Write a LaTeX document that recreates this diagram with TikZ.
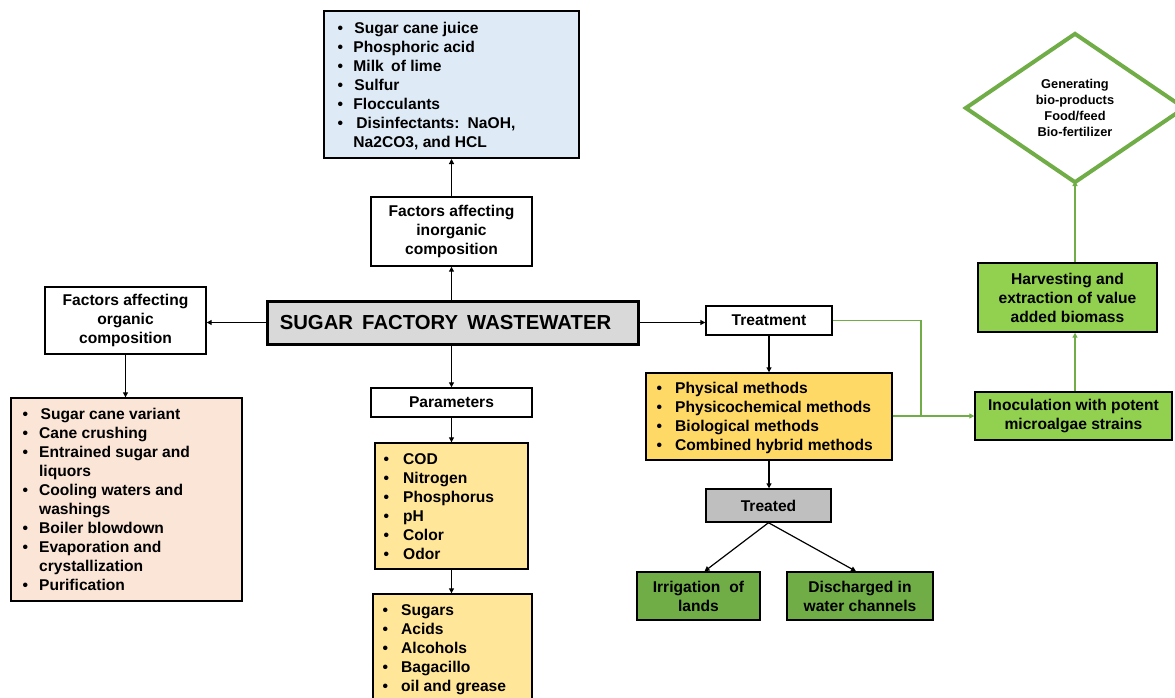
\documentclass[tikz,border=0pt]{standalone}
\usepackage{fontspec}
\setmainfont{Liberation Sans}
\usetikzlibrary{arrows.meta,shapes.geometric}
\definecolor{bluefill}{HTML}{DEEBF7}
\definecolor{peachfill}{HTML}{FBE5D6}
\definecolor{paramfill}{HTML}{FFE699}
\definecolor{methfill}{HTML}{FFD966}
\definecolor{mainfill}{HTML}{D9D9D9}
\definecolor{treatedfill}{HTML}{BFBFBF}
\definecolor{lightgreen}{HTML}{92D050}
\definecolor{darkgreen}{HTML}{70AD47}
\newcommand{\fnt}{\fontsize{15.6}{19}\selectfont\bfseries}
\newcommand{\mybox}[7]{\node[#6, minimum width={(#3-#1)*1pt}, minimum height={(#4-#2)*1pt}] (#5) at ({(#1+#3)/2},{(#2+#4)/2}) {#7};}
\tikzset{
  box/.style={draw=black, line width=1.4pt, inner sep=0pt, align=center, font=\fnt, fill=white},
  listtext/.style={anchor=base west, inner sep=0pt, font=\fnt},
  arr/.style={draw=black, line width=1.2pt, -{Triangle[length=5pt,width=5pt]}},
  garr/.style={draw=darkgreen, line width=1.2pt, -{Triangle[length=5pt,width=5pt]}},
  gline/.style={draw=darkgreen, line width=1.2pt},
}
\begin{document}
\begin{tikzpicture}[x=1pt,y=-1pt]
\useasboundingbox (0,0) rectangle (1175,697);

% boxes
\mybox{324}{11}{579}{158}{blue}{box, fill=bluefill, line width=2pt}{}
\mybox{371}{197}{532}{266}{inorg}{box}{Factors affecting\\inorganic\\composition}
\mybox{267}{301}{638}{344}{main}{box, fill=mainfill, line width=3pt, font=\fontsize{20.3}{24}\selectfont\bfseries}{\raisebox{-1pt}{SUGAR\hspace{0.45em}FACTORY\hspace{0.45em}WASTEWATER}\hspace{14pt}}
\mybox{45}{287}{206}{354}{org}{box}{Factors affecting\\organic\\composition}
\mybox{11}{398}{242}{601}{peach}{box, fill=peachfill}{}
\mybox{371}{388}{532}{417}{params}{box}{Parameters}
\mybox{375}{443}{528}{569}{plist}{box, fill=paramfill}{}
\mybox{373}{594}{532}{712}{plisttwo}{box, fill=paramfill}{}
\mybox{706}{306}{832}{335}{treat}{box}{Treatment}
\mybox{646}{373}{892}{460}{methods}{box, fill=methfill}{}
\mybox{706}{489}{831}{522}{treated}{box, fill=treatedfill}{Treated}
\mybox{637}{572}{760}{620}{irr}{box, fill=darkgreen}{Irrigation\hspace{0.3em} of\\lands}
\mybox{787}{572}{933}{620}{dis}{box, fill=darkgreen}{Discharged in\\water channels}
\mybox{975}{392}{1172}{440}{inoc}{box, fill=lightgreen}{Inoculation with potent\\microalgae strains}
\mybox{978}{263}{1157}{332}{harv}{box, fill=lightgreen}{Harvesting and\\extraction of value\\added biomass}
\node[diamond, draw=darkgreen, line width=4pt, fill=white, inner sep=0pt,
      minimum width=220pt, minimum height=150pt, align=center,
      font=\fontsize{12.8}{16}\selectfont\bfseries] (diam) at (1075,108)
      {Generating\\bio-products\\Food/feed\\Bio-fertilizer};

% list texts
\node[listtext] (blueT) at (337.3,33) {\begin{tabular}[t]{@{}l@{\hspace{10.5pt}}l@{}}
\textbullet & \hspace{1pt}Sugar cane juice\\
\textbullet & Phosphoric acid\\
\textbullet & Milk\hspace{0.2em} of lime\\
\textbullet & \hspace{1pt}Sulfur\\
\textbullet & Flocculants\\
\textbullet & \hspace{3pt}Disinfectants:\hspace{0.15em} NaOH,\\
 & Na2CO3, and HCL
\end{tabular}};
\node[listtext] (peachT) at (22.3,419) {\begin{tabular}[t]{@{}l@{\hspace{11.2pt}}l@{}}
\textbullet & \hspace{1.5pt}Sugar cane variant\\
\textbullet & Cane crushing\\
\textbullet & Entrained sugar and\\
 & liquors\\
\textbullet & Cooling waters and\\
 & washings\\
\textbullet & Boiler blowdown\\
\textbullet & Evaporation and\\
 & crystallization\\
\textbullet & Purification
\end{tabular}};
\node[listtext] (plistT) at (383.3,464.6) {\begin{tabular}[t]{@{}l@{\hspace{14.2pt}}l@{}}
\textbullet & COD\\
\textbullet & Nitrogen\\
\textbullet & Phosphorus\\
\textbullet & pH\\
\textbullet & Color\\
\textbullet & Odor
\end{tabular}};
\node[listtext] (plisttwoT) at (382.3,615.6) {\begin{tabular}[t]{@{}l@{\hspace{13.2pt}}l@{}}
\textbullet & Sugars\\
\textbullet & Acids\\
\textbullet & Alcohols\\
\textbullet & Bagacillo\\
\textbullet & oil and grease
\end{tabular}};
\node[listtext] (methodsT) at (656.3,393) {\begin{tabular}[t]{@{}l@{\hspace{13.2pt}}l@{}}
\textbullet & Physical methods\\
\textbullet & Physicochemical methods\\
\textbullet & Biological methods\\
\textbullet & Combined hybrid methods
\end{tabular}};

% black connectors
\draw[arr] (main.north -| inorg.south) -- (inorg.south);
\draw[arr] (inorg.north) -- (inorg.north |- blue.south);
\draw[arr] (main.west) -- (main.west -| org.east);
\draw[arr] (org.south) -- (org.south |- peach.north);
\draw[arr] (main.south -| params.north) -- (params.north);
\draw[arr] (params.south) -- (params.south |- plist.north);
\draw[arr] (plist.south) -- (plist.south |- plisttwo.north);
\draw[arr] (main.east) -- (main.east -| treat.west);
\draw[arr] (treat.south) -- (treat.south |- methods.north);
\draw[arr] (methods.south) -- (methods.south |- treated.north);
\draw[arr] (treated.south) -- ([xshift=6pt]irr.north);
\draw[arr] (treated.south) -- ([xshift=-4pt]dis.north);

% green connectors
\coordinate (gj) at (921,416);
\draw[gline] (treat.east) -| (gj);
\draw[garr] (methods.east |- gj) -- (gj |- inoc.west) -- (inoc.west);
\draw[garr] (inoc.north -| 1075,0) -- (harv.south -| 1075,0);
\draw[garr] (harv.north -| diam.south) -- ([yshift=4pt]diam.south);
\end{tikzpicture}
\end{document}
